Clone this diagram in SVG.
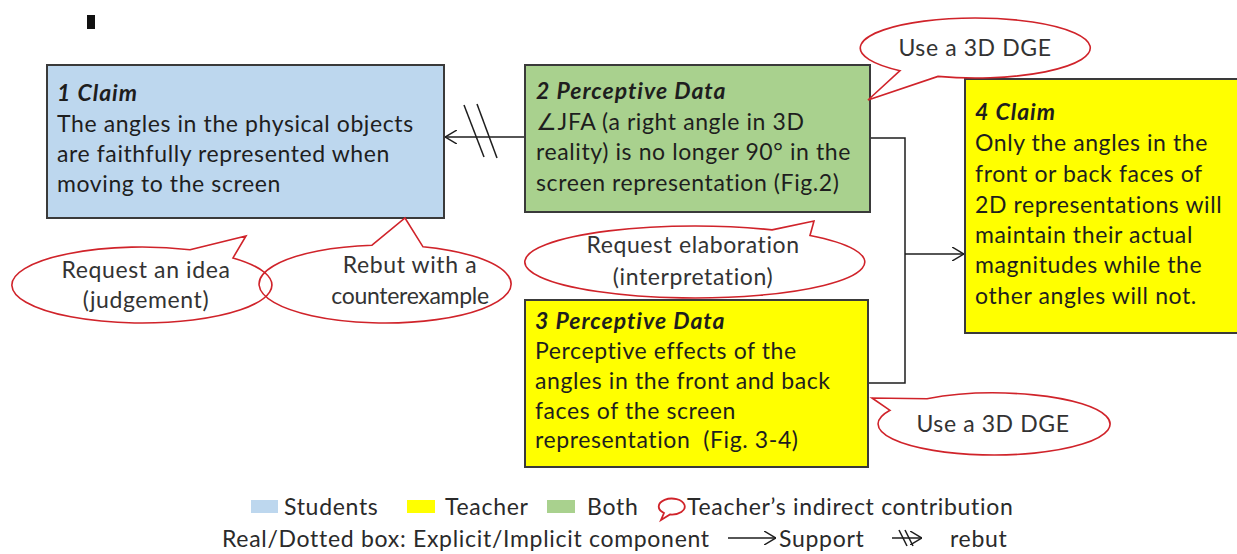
<svg xmlns="http://www.w3.org/2000/svg" width="1237" height="554" viewBox="0 0 1237 554">
  <style>
    .box { stroke: #3a3a3a; stroke-width: 2; }
    .blue { fill: #BDD7EE; }
    .green { fill: #A9D18E; }
    .yellow { fill: #FFFF00; }
    .t { font-family: Lato, "Liberation Sans", sans-serif; font-size: 23px; letter-spacing: 0.6px; fill: #1e1e1e; }
    .h { font-weight: bold; font-style: italic; letter-spacing: 1px; }
    .c { font-family: Lato, "Liberation Sans", sans-serif; font-size: 23px; letter-spacing: 0.6px; fill: #333; text-anchor: middle; }
    .lg { font-family: Lato, "Liberation Sans", sans-serif; font-size: 23px; letter-spacing: 0.7px; fill: #2a2a2a; }
    .call { fill: none; stroke: #D0232A; stroke-width: 1.6; stroke-linejoin: miter; }
    .conn { fill: none; stroke: #1e1e1e; stroke-width: 1.5; }
  </style>
  <defs>
    <marker id="open" viewBox="0 0 12 14" refX="12" refY="7" markerWidth="12" markerHeight="14" markerUnits="userSpaceOnUse" orient="auto">
      <path d="M0,0 L12,7 L0,14" fill="none" stroke="#1e1e1e" stroke-width="1.5"/>
    </marker>
  </defs>

  <rect x="87" y="15" width="8" height="14" fill="#111"/>

  <g id="connectors">
    <line class="conn" x1="525" y1="137" x2="445" y2="137" marker-end="url(#open)"/>
    <line class="conn" x1="464" y1="105" x2="484" y2="157"/>
    <line class="conn" x1="477" y1="104" x2="497" y2="158"/>
    <polyline class="conn" points="870,138 905,138 905,383 868,383"/>
    <line class="conn" x1="905" y1="254" x2="964" y2="254" marker-end="url(#open)"/>
  </g>

  <g id="node1">
    <rect class="box blue" x="47" y="65" width="397" height="153"/>
    <text class="t h" x="57" y="101">1 Claim</text>
    <text class="t" x="57" y="132">The angles in the physical objects</text>
    <text class="t" x="57" y="162">are faithfully represented when</text>
    <text class="t" x="57" y="192">moving to the screen</text>
  </g>

  <g id="node2">
    <rect class="box green" x="525" y="65" width="345" height="147"/>
    <text class="t h" x="536" y="99">2 Perceptive Data</text>
    <text class="t" x="536" y="130">∠JFA (a right angle in 3D</text>
    <text class="t" x="536" y="160">reality) is no longer 90° in the</text>
    <text class="t" x="536" y="191">screen representation (Fig.2)</text>
  </g>

  <g id="node3">
    <rect class="box yellow" x="525" y="300" width="343" height="167"/>
    <text class="t h" x="535" y="329">3 Perceptive Data</text>
    <text class="t" x="535" y="359">Perceptive effects of the</text>
    <text class="t" x="535" y="389">angles in the front and back</text>
    <text class="t" x="535" y="419">faces of the screen</text>
    <text class="t" x="535" y="448" xml:space="preserve">representation  (Fig. 3-4)</text>
  </g>

  <g id="node4">
    <rect class="box yellow" x="965" y="79" width="280" height="254"/>
    <text class="t h" x="975" y="120">4 Claim</text>
    <text class="t" x="975" y="151">Only the angles in the</text>
    <text class="t" x="975" y="182">front or back faces of</text>
    <text class="t" x="975" y="213">2D representations will</text>
    <text class="t" x="975" y="243">maintain their actual</text>
    <text class="t" x="975" y="273">magnitudes while the</text>
    <text class="t" x="975" y="304">other angles will not.</text>
  </g>

  <g id="callout-top-dge">
    <path class="call" d="M900,70.7 L868,100 L938,76.4 A115 30 0 1 0 900,70.7 Z"/>
    <text class="c" x="975" y="56">Use a 3D DGE</text>
  </g>

  <g id="callout-request-idea">
    <path class="call" d="M190,249.7 L246,236 L233,257.9 A130 38 0 1 1 190,249.7 Z"/>
    <text class="c" x="146" y="278">Request an idea</text>
    <text class="c" x="146" y="308">(judgement)</text>
  </g>

  <g id="callout-rebut">
    <path class="call" d="M372,245.2 L405,218 L423,246.8 A126 39 0 1 1 372,245.2 Z"/>
    <text class="c" x="410" y="273">Rebut with a</text>
    <text class="c" x="410" y="304" style="letter-spacing:-0.3px">counterexample</text>
  </g>

  <g id="callout-elaboration">
    <path class="call" d="M772,229.9 L814,221 L810,235.5 A170 36 0 1 1 772,229.9 Z"/>
    <text class="c" x="693" y="253">Request elaboration</text>
    <text class="c" x="693" y="285">(interpretation)</text>
  </g>

  <g id="callout-bottom-dge">
    <path class="call" d="M927,398.7 L872,398 L890,410.3 A116 31 0 1 0 927,398.7 Z"/>
    <text class="c" x="993" y="432">Use a 3D DGE</text>
  </g>

  <g id="legend">
    <rect x="251" y="500" width="27" height="13" fill="#BDD7EE"/>
    <text class="lg" x="284" y="515">Students</text>
    <rect x="407" y="500" width="28" height="13" fill="#FFFF00"/>
    <text class="lg" x="445" y="515">Teacher</text>
    <rect x="547" y="500" width="28" height="13" fill="#A9D18E"/>
    <text class="lg" x="587" y="515">Both</text>
    <path d="M664,513 L661,520 L670,514.5 A13 8 0 1 0 664,513 Z" fill="none" stroke="#D0232A" stroke-width="1.8"/>
    <text class="lg" x="687" y="515">Teacher’s indirect contribution</text>
    <text class="lg" x="222" y="547">Real/Dotted box: Explicit/Implicit component</text>
    <line class="conn" x1="728" y1="538" x2="776" y2="538" marker-end="url(#open)"/>
    <text class="lg" x="779" y="547">Support</text>
    <line class="conn" x1="892" y1="538" x2="922" y2="538" marker-end="url(#open)"/>
    <line class="conn" x1="899" y1="530" x2="907" y2="546"/>
    <line class="conn" x1="905" y1="530" x2="913" y2="546"/>
    <text class="lg" x="950" y="547">rebut</text>
  </g>
</svg>
